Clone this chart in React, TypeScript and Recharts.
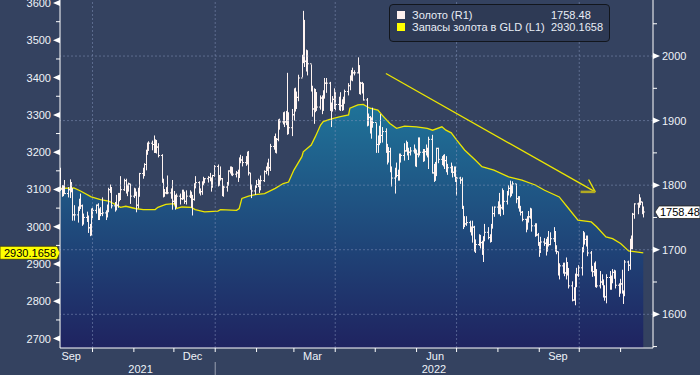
import React from "react";
import { ComposedChart, Area, Bar, XAxis, YAxis, ReferenceLine, Legend } from "recharts";

// Золото, дневные бары [high, low, close]
const sep21 = [
  [1827, 1791, 1794], [1800, 1782, 1789], [1800, 1783, 1794], [1808, 1786, 1787], [1797, 1781, 1793],
  [1809, 1780, 1804], [1804, 1789, 1794], [1795, 1745, 1754], [1769, 1745, 1754], [1767, 1742, 1764],
  [1779, 1760, 1774], [1787, 1763, 1768], [1770, 1737, 1743], [1756, 1739, 1750], [1759, 1743, 1751],
  [1753, 1726, 1734], [1740, 1721, 1726], [1764, 1722, 1757],
];
const oct21 = [
  [1765, 1749, 1761], [1770, 1756, 1769], [1772, 1746, 1760], [1764, 1746, 1761], [1766, 1752, 1756],
  [1781, 1752, 1757], [1761, 1746, 1754], [1770, 1750, 1760], [1796, 1758, 1793], [1801, 1788, 1796],
  [1797, 1764, 1768], [1774, 1759, 1765], [1785, 1761, 1769], [1788, 1765, 1783], [1788, 1775, 1782],
  [1814, 1777, 1793], [1810, 1791, 1807], [1810, 1787, 1793], [1801, 1783, 1798], [1804, 1790, 1802],
  [1802, 1771, 1783],
];
const nov21 = [
  [1796, 1780, 1793], [1795, 1783, 1788], [1790, 1758, 1769], [1796, 1764, 1792], [1819, 1782, 1818],
  [1827, 1810, 1824], [1834, 1814, 1832], [1855, 1823, 1849], [1866, 1847, 1863], [1868, 1853, 1865],
  [1869, 1854, 1863], [1877, 1850, 1851], [1871, 1850, 1869], [1870, 1849, 1859], [1865, 1843, 1846],
  [1848, 1804, 1805], [1810, 1781, 1790], [1794, 1782, 1788], [1797, 1786, 1792], [1815, 1786, 1788],
  [1795, 1779, 1785], [1808, 1762, 1775],
];
const dec21 = [
  [1791, 1770, 1781], [1785, 1762, 1769], [1787, 1765, 1783], [1787, 1770, 1779], [1793, 1777, 1785],
  [1793, 1778, 1783], [1790, 1771, 1775], [1792, 1770, 1783], [1792, 1780, 1787], [1790, 1765, 1771],
  [1785, 1753, 1778], [1803, 1776, 1799], [1814, 1795, 1804], [1806, 1787, 1791], [1795, 1784, 1790],
  [1806, 1785, 1803], [1813, 1800, 1809], [1811, 1803, 1810], [1814, 1804, 1812], [1819, 1806, 1810],
  [1812, 1790, 1805], [1816, 1796, 1815], [1831, 1813, 1829],
];
const jan22 = [
  [1832, 1798, 1801], [1815, 1799, 1815], [1829, 1807, 1810], [1811, 1783, 1789], [1799, 1782, 1797],
  [1805, 1790, 1801], [1823, 1799, 1822], [1829, 1818, 1826], [1829, 1815, 1821], [1828, 1814, 1817],
  [1822, 1812, 1819], [1824, 1805, 1813], [1843, 1811, 1841], [1847, 1834, 1839], [1845, 1829, 1835],
  [1845, 1830, 1843], [1852, 1832, 1848], [1853, 1815, 1819], [1819, 1793, 1797], [1801, 1780, 1791],
  [1800, 1785, 1797],
];
const feb22 = [
  [1808, 1796, 1801], [1810, 1797, 1807], [1808, 1788, 1804], [1815, 1792, 1807], [1823, 1805, 1821],
  [1829, 1817, 1826], [1835, 1822, 1833], [1841, 1815, 1827], [1864, 1822, 1860], [1876, 1855, 1872],
  [1880, 1850, 1855], [1873, 1849, 1871], [1902, 1868, 1899], [1903, 1886, 1898], [1913, 1894, 1906],
  [1914, 1890, 1898], [1915, 1893, 1910], [1974, 1878, 1903], [1913, 1879, 1889], [1918, 1876, 1909],
];
const mar22 = [
  [1950, 1900, 1943], [1951, 1914, 1923], [1945, 1918, 1936], [1971, 1930, 1966], [2002, 1967, 1998],
  [2070, 1989, 2050], [2056, 1983, 1992], [2010, 1976, 2000], [2009, 1970, 1988], [1987, 1945, 1951],
  [1954, 1906, 1918], [1950, 1895, 1928], [1949, 1913, 1943], [1944, 1915, 1921], [1939, 1917, 1935],
  [1939, 1910, 1921], [1947, 1915, 1944], [1966, 1934, 1958], [1966, 1943, 1958], [1960, 1915, 1923],
  [1928, 1890, 1919], [1938, 1914, 1933], [1950, 1918, 1937],
];
const apr22 = [
  [1944, 1916, 1925], [1937, 1916, 1932], [1944, 1915, 1923], [1933, 1915, 1925], [1937, 1916, 1931],
  [1948, 1926, 1945], [1958, 1939, 1954], [1970, 1947, 1966], [1978, 1962, 1977], [1982, 1961, 1974],
  [1978, 1970, 1974], [1998, 1973, 1979], [1986, 1941, 1950], [1960, 1940, 1958], [1960, 1942, 1951],
  [1958, 1931, 1932], [1935, 1891, 1898], [1911, 1892, 1905], [1907, 1880, 1886], [1905, 1872, 1894],
  [1920, 1889, 1897],
];
const may22 = [
  [1896, 1850, 1863], [1877, 1850, 1868], [1892, 1862, 1881], [1910, 1865, 1877], [1890, 1866, 1883],
  [1888, 1850, 1855], [1864, 1832, 1839], [1859, 1835, 1852], [1858, 1820, 1822], [1829, 1798, 1811],
  [1827, 1787, 1825], [1835, 1812, 1815], [1824, 1807, 1815], [1849, 1807, 1841], [1849, 1835, 1846],
  [1865, 1838, 1853], [1869, 1852, 1866], [1867, 1846, 1853], [1858, 1839, 1851], [1859, 1846, 1853],
  [1863, 1849, 1855], [1857, 1829, 1837],
];
const jun22 = [
  [1855, 1828, 1848], [1874, 1843, 1870], [1874, 1846, 1851], [1856, 1836, 1841], [1856, 1837, 1852],
  [1863, 1846, 1853], [1858, 1843, 1848], [1875, 1825, 1871], [1878, 1818, 1819], [1833, 1805, 1808],
  [1836, 1807, 1834], [1858, 1814, 1857], [1858, 1834, 1840], [1845, 1831, 1839], [1847, 1829, 1832],
  [1848, 1825, 1838], [1845, 1820, 1823], [1833, 1816, 1827], [1835, 1819, 1823], [1830, 1812, 1820],
  [1829, 1813, 1818], [1829, 1805, 1807],
];
const jul22 = [
  [1813, 1784, 1811], [1813, 1802, 1808], [1812, 1764, 1764], [1768, 1732, 1739], [1752, 1735, 1740],
  [1752, 1737, 1742], [1745, 1727, 1734], [1736, 1722, 1725], [1745, 1711, 1735], [1737, 1697, 1711],
  [1716, 1695, 1708], [1724, 1706, 1709], [1723, 1702, 1711], [1714, 1692, 1696], [1721, 1681, 1719],
  [1740, 1713, 1727], [1735, 1716, 1719], [1724, 1711, 1717], [1740, 1712, 1734], [1767, 1733, 1756],
  [1767, 1751, 1766],
];
const aug22 = [
  [1775, 1755, 1772], [1788, 1755, 1760], [1770, 1752, 1765], [1795, 1762, 1791], [1792, 1754, 1775],
  [1791, 1770, 1789], [1800, 1784, 1795], [1807, 1781, 1792], [1801, 1783, 1789], [1806, 1787, 1802],
  [1802, 1772, 1779], [1783, 1764, 1776], [1783, 1759, 1761], [1768, 1753, 1758], [1760, 1744, 1747],
  [1748, 1727, 1736], [1752, 1731, 1749], [1760, 1742, 1751], [1765, 1748, 1758], [1764, 1728, 1737],
  [1741, 1720, 1738], [1741, 1721, 1723], [1726, 1706, 1711],
];
const sep22 = [
  [1712, 1689, 1697], [1720, 1695, 1712], [1718, 1706, 1710], [1717, 1691, 1701], [1720, 1697, 1718],
  [1729, 1705, 1708], [1727, 1707, 1717], [1735, 1712, 1725], [1729, 1697, 1702], [1707, 1693, 1697],
  [1697, 1660, 1665], [1679, 1654, 1675], [1680, 1663, 1676], [1680, 1659, 1664], [1688, 1654, 1674],
  [1681, 1660, 1671], [1671, 1640, 1644], [1651, 1620, 1622], [1642, 1621, 1629], [1663, 1614, 1660],
  [1672, 1642, 1661], [1676, 1658, 1672],
];
const oct22 = [
  [1704, 1660, 1699], [1729, 1696, 1725], [1727, 1708, 1716], [1722, 1705, 1713], [1722, 1690, 1695],
  [1698, 1666, 1668], [1675, 1658, 1666], [1680, 1659, 1673], [1682, 1642, 1666], [1670, 1641, 1644],
  [1667, 1640, 1650], [1662, 1645, 1652], [1654, 1626, 1629], [1645, 1621, 1627], [1662, 1617, 1657],
  [1667, 1638, 1649], [1660, 1638, 1652], [1670, 1648, 1665], [1669, 1655, 1663], [1668, 1640, 1645],
  [1648, 1627, 1634],
];
const nov22 = [
  [1655, 1632, 1647], [1669, 1632, 1634], [1637, 1616, 1630], [1684, 1628, 1681], [1683, 1667, 1676],
  [1717, 1669, 1712], [1722, 1701, 1706], [1757, 1701, 1755], [1772, 1748, 1771], [1773, 1755, 1771],
  [1786, 1765, 1777], [1781, 1769, 1774], [1774, 1755, 1761], [1767, 1750, 1758.48],
];
const goldMonths: [string, number[][]][] = [
  ["2021-09-07", sep21], ["2021-10-01", oct21], ["2021-11-01", nov21], ["2021-12-01", dec21],
  ["2022-01-03", jan22], ["2022-02-01", feb22], ["2022-03-01", mar22], ["2022-04-01", apr22],
  ["2022-05-02", may22], ["2022-06-01", jun22], ["2022-07-01", jul22], ["2022-08-01", aug22],
  ["2022-09-01", sep22], ["2022-10-03", oct22], ["2022-11-01", nov22],
];

// Запасы золота в GLD (L1)
const holdDates = [
  "2021-09-07", "2021-09-17", "2021-09-22", "2021-09-30", "2021-10-07", "2021-10-13", "2021-10-19",
  "2021-10-22", "2021-10-26", "2021-11-02", "2021-11-08", "2021-11-17", "2021-11-19", "2021-11-25",
  "2021-12-01", "2021-12-03", "2021-12-07", "2021-12-14", "2021-12-17", "2021-12-24", "2022-01-03",
  "2022-01-05", "2022-01-17", "2022-01-19", "2022-01-21", "2022-01-26", "2022-01-31", "2022-02-07",
  "2022-02-15", "2022-02-21", "2022-02-25", "2022-03-01", "2022-03-07", "2022-03-08", "2022-03-14",
  "2022-03-17", "2022-03-21", "2022-03-23", "2022-03-28", "2022-04-04", "2022-04-11", "2022-04-12",
  "2022-04-18", "2022-04-22", "2022-04-27", "2022-05-03", "2022-05-06", "2022-05-12", "2022-05-17",
  "2022-05-23", "2022-06-01", "2022-06-09", "2022-06-13", "2022-06-20", "2022-06-23", "2022-06-27",
  "2022-07-01", "2022-07-07", "2022-07-15", "2022-07-20", "2022-07-29", "2022-08-09", "2022-08-19",
  "2022-08-29", "2022-09-05", "2022-09-16", "2022-09-23", "2022-09-30", "2022-10-10", "2022-10-14",
  "2022-10-21", "2022-10-26", "2022-11-01", "2022-11-07", "2022-11-14", "2022-11-18",
];
const holdValues = [
  3103, 3104, 3096, 3080, 3073, 3069, 3058,
  3052, 3055, 3049, 3046, 3046, 3052, 3060,
  3062, 3049, 3053, 3052, 3046, 3040, 3042,
  3046, 3044, 3049, 3076, 3082, 3086, 3089,
  3103, 3116, 3120, 3152, 3188, 3201, 3219,
  3241, 3273, 3282, 3288, 3295, 3300, 3318,
  3327, 3328, 3318, 3313, 3300, 3277, 3264,
  3270, 3268, 3264, 3259, 3268, 3259, 3252,
  3233, 3206, 3179, 3161, 3152, 3134, 3125,
  3112, 3098, 3080, 3049, 3018, 3013, 3000,
  2973, 2968, 2955, 2935, 2932, 2930.1658,
];

const seriesNames = ["Золото (R1)", "Запасы золота в GLD (L1)"];
const lastGold = "1758.48";
const lastHold = "2930.1658";

const leftTicks = [2700, 2750, 2800, 2850, 2900, 2950, 3000, 3050, 3100, 3150, 3200, 3250, 3300, 3350, 3400, 3450, 3500, 3550, 3600];
const rightTicks = [1550, 1600, 1650, 1700, 1750, 1800, 1850, 1900, 1950, 2000, 2050];
const gridLevels = [1600, 1700, 1800, 1900, 2000];
const quarterStarts = ["2021-10-01", "2022-01-01", "2022-04-01", "2022-07-01", "2022-10-01"];
const monthStarts = [
  "2021-10-01", "2021-11-01", "2021-12-01", "2022-01-01", "2022-02-01", "2022-03-01", "2022-04-01",
  "2022-05-01", "2022-06-01", "2022-07-01", "2022-08-01", "2022-09-01", "2022-10-01", "2022-11-01",
];
const monthLabels: [string, string][] = [
  ["Sep", "2021-09-15"], ["Dec", "2021-12-15"], ["Mar", "2022-03-15"], ["Jun", "2022-06-15"], ["Sep", "2022-09-15"],
];
const yearLabels: [string, string][] = [["2021", "2021-11-06"], ["2022", "2022-06-14"]];
const yearBreak = "2022-01-01";

// стрелка тренда (ось R)
const trendLine: [string, number][] = [["2022-05-09", 1973], ["2022-10-13", 1789.6]];
const arrowBarbs: [string, number][][] = [
  [["2022-10-08", 1808.8], ["2022-10-13", 1789.6]],
  [["2022-10-02", 1789.6], ["2022-10-13", 1789.6]],
];

const FONT = "'Liberation Sans', Arial, sans-serif";
const BG = "#344260";
const YELLOW = "#ece600";

const BASE = Date.UTC(2021, 8, 1);
const toDay = (s: string) => {
  const [y, m, d] = s.split("-").map(Number);
  return (Date.UTC(y, m - 1, d) - BASE) / 864e5;
};

// собираем строки
const rowMap = new Map<number, any>();
let prevClose: number | null = null;
goldMonths.forEach(([start, bars]) => {
  const d = new Date(start + "T00:00:00Z");
  bars.forEach(([hi, lo, close]) => {
    while (d.getUTCDay() === 0 || d.getUTCDay() === 6) d.setUTCDate(d.getUTCDate() + 1);
    const day = (d.getTime() - BASE) / 864e5;
    rowMap.set(day, { day, hi, lo, close, open: prevClose ?? close });
    prevClose = close;
    d.setUTCDate(d.getUTCDate() + 1);
  });
});
holdDates.forEach((s, i) => {
  const day = toDay(s);
  const r = rowMap.get(day) ?? { day };
  r.hold = holdValues[i];
  rowMap.set(day, r);
});
const rows = [...rowMap.values()].sort((a, b) => a.day - b.day);

const labelDays = new Map<number, string>();
monthLabels.forEach(([t, s]) => labelDays.set(toDay(s), t));
const yearDays = new Map<number, string>();
yearLabels.forEach(([t, s]) => yearDays.set(toDay(s), t));
const monthDays = new Set(monthStarts.map(toDay));
const xTicks = [...monthDays, ...labelDays.keys(), ...yearDays.keys()].sort((a, b) => a - b);

const OhlcBar = (p: any) => {
  const { x, y, width, height, payload } = p;
  if (x == null || y == null || !payload || payload.hi == null) return null;
  const cx = Math.round(x + width / 2) + 0.5;
  const top = Math.min(y, y + height);
  const bot = Math.max(y, y + height);
  const span = payload.hi - payload.lo || 1;
  const yOf = (v: number) => top + ((payload.hi - v) / span) * (bot - top);
  return (
    <path
      d={`M${cx},${top}V${bot}M${cx - 1.5},${yOf(payload.open)}H${cx}M${cx},${yOf(payload.close)}H${cx + 1.5}`}
      stroke="#fff4f1"
      strokeWidth={1}
      fill="none"
    />
  );
};

const LeftTick = ({ x, y, payload }: any) => {
  const v = payload.value;
  if (v % 100 !== 0) return <line x1={x - 4} x2={x} y1={y} y2={y} stroke="#fff" />;
  return (
    <g>
      <polygon points={`${x},${y - 3} ${x},${y + 3} ${x - 7},${y}`} fill="#fff" />
      <text x={x - 9} y={y} dy="0.36em" textAnchor="end" fill="#eef2f8" fontSize={11} fontFamily={FONT}>
        {v}
      </text>
    </g>
  );
};

const RightTick = ({ x, y, payload }: any) => {
  const v = payload.value;
  if (v % 100 !== 0) return <line x1={x} x2={x + 4} y1={y} y2={y} stroke="#fff" />;
  return (
    <g>
      <polygon points={`${x},${y - 3} ${x},${y + 3} ${x + 7},${y}`} fill="#fff" />
      <text x={x + 9} y={y} dy="0.36em" textAnchor="start" fill="#eef2f8" fontSize={11} fontFamily={FONT}>
        {v}
      </text>
    </g>
  );
};

const XTick = ({ x, y, payload }: any) => {
  const v = payload.value;
  const parts: React.ReactNode[] = [];
  if (monthDays.has(v)) parts.push(<line key="t" x1={x} x2={x} y1={y} y2={y + 4} stroke="#fff" />);
  if (v === toDay(yearBreak)) parts.push(<line key="b" x1={x} x2={x} y1={y + 14} y2={y + 28} stroke="#9aa1b2" />);
  if (labelDays.has(v))
    parts.push(
      <text key="m" x={x} y={y + 12} textAnchor="middle" fill="#eef2f8" fontSize={11} fontFamily={FONT}>
        {labelDays.get(v)}
      </text>
    );
  if (yearDays.has(v))
    parts.push(
      <text key="y" x={x} y={y + 25} textAnchor="middle" fill="#eef2f8" fontSize={11} fontFamily={FONT}>
        {yearDays.get(v)}
      </text>
    );
  return <g>{parts}</g>;
};

const HoldTag = ({ viewBox }: any) => {
  const { x, y } = viewBox;
  return (
    <g>
      <polygon
        points={`${x - 60},${y - 6.5} ${x - 3},${y - 6.5} ${x},${y} ${x - 3},${y + 6.5} ${x - 60},${y + 6.5}`}
        fill="#ffff00"
        stroke="#3a3a10"
        strokeWidth={0.8}
      />
      <text x={x - 56} y={y} dy="0.36em" fill="#000" fontSize={11} fontFamily={FONT}>
        {lastHold}
      </text>
    </g>
  );
};

const GoldTag = ({ viewBox }: any) => {
  const { x, y, width } = viewBox;
  const r = x + width;
  return (
    <g>
      <path
        d={`M${r + 2},${y} L${r + 6},${y - 6} H${r + 47} V${y + 6.5} H${r + 6} Z`}
        fill="#ffffff"
        stroke="#222"
        strokeWidth={0.8}
      />
      <text x={r + 7} y={y} dy="0.36em" fill="#000" fontSize={11} fontFamily={FONT}>
        {lastGold}
      </text>
    </g>
  );
};

const LegendBox = () => {
  const items = [
    { name: seriesNames[0], color: "#fdf0ee", value: lastGold },
    { name: seriesNames[1], color: "#ffff00", value: lastHold },
  ];
  return (
    <div
      style={{
        boxSizing: "border-box",
        width: 221,
        height: 38,
        background: "#2e3a55",
        border: "1.5px solid #12161d",
        borderRadius: 4,
        padding: "4px 0 0 7px",
        fontFamily: FONT,
        fontSize: 11,
        color: "#e8edf5",
      }}
    >
      {items.map((it) => (
        <div key={it.name} style={{ display: "flex", alignItems: "center", height: 12, lineHeight: "12px" }}>
          <span style={{ width: 8, height: 8, background: it.color, marginRight: 7, flex: "none" }} />
          <span style={{ width: 139, whiteSpace: "nowrap" }}>{it.name}</span>
          <span style={{ whiteSpace: "nowrap" }}>{it.value}</span>
        </div>
      ))}
    </div>
  );
};

export default function App() {
  return (
    <div style={{ position: "absolute", left: 0, top: 0, width: 700, height: 375, background: BG }}>
      <ComposedChart width={700} height={375} data={rows} margin={{ top: 0, right: 0, bottom: 0, left: 0 }}>
        <defs>
          <linearGradient id="gldFill" gradientUnits="userSpaceOnUse" x1="0" y1="104" x2="0" y2="348">
            <stop offset="0" stopColor="#1f7399" />
            <stop offset="1" stopColor="#1f2360" />
          </linearGradient>
        </defs>
        <XAxis
          dataKey="day"
          type="number"
          domain={[5.6, 450.3]}
          allowDataOverflow
          ticks={xTicks}
          interval={0}
          tick={XTick}
          tickLine={false}
          tickSize={0}
          tickMargin={0}
          height={27}
          axisLine={{ stroke: "#fff" }}
        />
        <YAxis
          yAxisId="L"
          orientation="left"
          type="number"
          width={60}
          domain={[2674.8, 3608.2]}
          allowDataOverflow
          ticks={leftTicks}
          interval={0}
          tick={LeftTick}
          tickLine={false}
          tickSize={0}
          tickMargin={0}
          axisLine={{ stroke: "#fff" }}
        />
        <YAxis
          yAxisId="R"
          orientation="right"
          type="number"
          width={47}
          domain={[1547.8, 2086.8]}
          allowDataOverflow
          ticks={rightTicks}
          interval={0}
          tick={RightTick}
          tickLine={false}
          tickSize={0}
          tickMargin={0}
          axisLine={{ stroke: "#fff" }}
        />
        <Area
          yAxisId="L"
          dataKey="hold"
          type="linear"
          stroke={YELLOW}
          strokeWidth={1.3}
          fill="url(#gldFill)"
          fillOpacity={1}
          connectNulls
          dot={false}
          activeDot={false}
          isAnimationActive={false}
        />
        {gridLevels.map((v) => (
          <ReferenceLine key={"g" + v} yAxisId="R" y={v} stroke="#8798bd" strokeOpacity={0.5} strokeDasharray="2 2" />
        ))}
        {quarterStarts.map((s) => (
          <ReferenceLine key={"q" + s} yAxisId="R" x={toDay(s)} stroke="#8798bd" strokeOpacity={0.5} strokeDasharray="2 2" />
        ))}
        <Bar
          yAxisId="R"
          dataKey={(d: any) => (d.hi == null ? null : [d.lo, d.hi])}
          barSize={1}
          shape={OhlcBar}
          isAnimationActive={false}
        />
        <ReferenceLine
          yAxisId="R"
          segment={trendLine.map(([s, v]) => ({ x: toDay(s), y: v }))}
          stroke={YELLOW}
          strokeWidth={1.3}
        />
        <ReferenceLine
          yAxisId="R"
          segment={arrowBarbs[0].map(([s, v]) => ({ x: toDay(s), y: v }))}
          stroke={YELLOW}
          strokeWidth={1.3}
        />
        <ReferenceLine
          yAxisId="R"
          segment={arrowBarbs[1].map(([s, v]) => ({ x: toDay(s), y: v }))}
          stroke="#b2aa22"
          strokeWidth={2.5}
        />
        <ReferenceLine yAxisId="L" y={Number(lastHold)} stroke="none" label={HoldTag} />
        <ReferenceLine yAxisId="R" y={Number(lastGold)} stroke="none" label={GoldTag} />
        <Legend
          layout="vertical"
          align="center"
          verticalAlign="middle"
          wrapperStyle={{ left: 389, top: 4, width: 221, height: 38 }}
          content={LegendBox}
        />
      </ComposedChart>
    </div>
  );
}
